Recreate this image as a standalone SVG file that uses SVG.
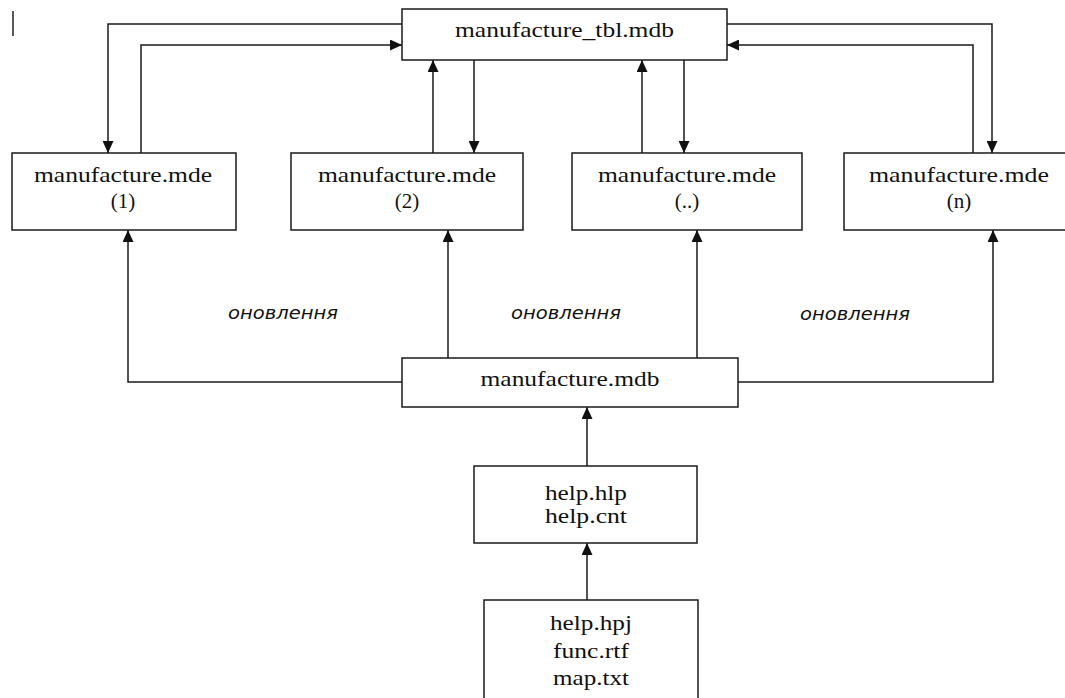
<svg xmlns="http://www.w3.org/2000/svg" width="1065" height="698" viewBox="0 0 1065 698">
  <style>
    .box { fill: #ffffff; stroke: #1a1a1a; stroke-width: 1.5; }
    .lbl { font-family: 'Liberation Serif', 'Times New Roman', 'DejaVu Serif', serif; font-size: 21px; fill: #111; text-anchor: middle; }
    .note { font-family: 'DejaVu Sans', 'Liberation Sans', sans-serif; font-style: italic; font-size: 18px; fill: #111; text-anchor: middle; }
    .link { fill: none; stroke: #1a1a1a; stroke-width: 1.5; }
  </style>
  <defs>
    <marker id="arrow" markerUnits="userSpaceOnUse" markerWidth="12" markerHeight="11" refX="12" refY="5.5" orient="auto">
      <path d="M0,0 L12,5.5 L0,11 Z" fill="#111"/>
    </marker>
  </defs>
  <rect width="1065" height="698" fill="#ffffff"/>

  <!-- text cursor mark -->
  <line x1="13" y1="11" x2="13" y2="36" stroke="#222" stroke-width="1.5"/>

  <g id="connectors">
    <path class="link" d="M402,24 H108 V153" marker-end="url(#arrow)"/>
    <path class="link" d="M141,153 V45 H402" marker-end="url(#arrow)"/>
    <path class="link" d="M433,153 V60" marker-end="url(#arrow)"/>
    <path class="link" d="M474,60 V153" marker-end="url(#arrow)"/>
    <path class="link" d="M642,153 V60" marker-end="url(#arrow)"/>
    <path class="link" d="M684,60 V153" marker-end="url(#arrow)"/>
    <path class="link" d="M727,24 H992 V153" marker-end="url(#arrow)"/>
    <path class="link" d="M973,153 V45 H727" marker-end="url(#arrow)"/>
    <path class="link" d="M402,382 H128 V230" marker-end="url(#arrow)"/>
    <path class="link" d="M448,358 V230" marker-end="url(#arrow)"/>
    <path class="link" d="M697,358 V230" marker-end="url(#arrow)"/>
    <path class="link" d="M738,382 H993 V230" marker-end="url(#arrow)"/>
    <path class="link" d="M587,466 V407" marker-end="url(#arrow)"/>
    <path class="link" d="M587,600 V543" marker-end="url(#arrow)"/>
    <text class="note" x="283" y="319" textLength="110" lengthAdjust="spacingAndGlyphs">оновлення</text>
    <text class="note" x="566" y="319" textLength="110" lengthAdjust="spacingAndGlyphs">оновлення</text>
    <text class="note" x="855" y="320" textLength="110" lengthAdjust="spacingAndGlyphs">оновлення</text>
  </g>

  <g id="tbl">
    <rect class="box" x="402" y="9" width="325" height="51"/>
    <text class="lbl" x="564.5" y="37" textLength="219" lengthAdjust="spacingAndGlyphs">manufacture_tbl.mdb</text>
  </g>

  <g id="mde1">
    <rect class="box" x="12" y="153" width="224" height="77"/>
    <text class="lbl" x="123" y="182" textLength="178" lengthAdjust="spacingAndGlyphs">manufacture.mde</text>
    <text class="lbl" x="123" y="208">(1)</text>
  </g>

  <g id="mde2">
    <rect class="box" x="291" y="153" width="232" height="77"/>
    <text class="lbl" x="407" y="182" textLength="178" lengthAdjust="spacingAndGlyphs">manufacture.mde</text>
    <text class="lbl" x="407" y="208">(2)</text>
  </g>

  <g id="mdeDots">
    <rect class="box" x="572" y="153" width="230" height="77"/>
    <text class="lbl" x="687" y="182" textLength="178" lengthAdjust="spacingAndGlyphs">manufacture.mde</text>
    <text class="lbl" x="687" y="208">(..)</text>
  </g>

  <g id="mdeN">
    <rect class="box" x="844" y="153" width="232" height="77"/>
    <text class="lbl" x="959" y="182" textLength="180" lengthAdjust="spacingAndGlyphs">manufacture.mde</text>
    <text class="lbl" x="959" y="208">(n)</text>
  </g>

  <g id="mdb">
    <rect class="box" x="402" y="358" width="336" height="49"/>
    <text class="lbl" x="570" y="386" textLength="179" lengthAdjust="spacingAndGlyphs">manufacture.mdb</text>
  </g>

  <g id="help">
    <rect class="box" x="474" y="466" width="223" height="77"/>
    <text class="lbl" x="586" y="500" textLength="82" lengthAdjust="spacingAndGlyphs">help.hlp</text>
    <text class="lbl" x="586" y="523" textLength="82" lengthAdjust="spacingAndGlyphs">help.cnt</text>
  </g>

  <g id="sources">
    <rect class="box" x="484" y="600" width="214" height="110"/>
    <text class="lbl" x="591" y="630" textLength="82" lengthAdjust="spacingAndGlyphs">help.hpj</text>
    <text class="lbl" x="591" y="658" textLength="76" lengthAdjust="spacingAndGlyphs">func.rtf</text>
    <text class="lbl" x="591" y="685" textLength="76" lengthAdjust="spacingAndGlyphs">map.txt</text>
  </g>
</svg>
